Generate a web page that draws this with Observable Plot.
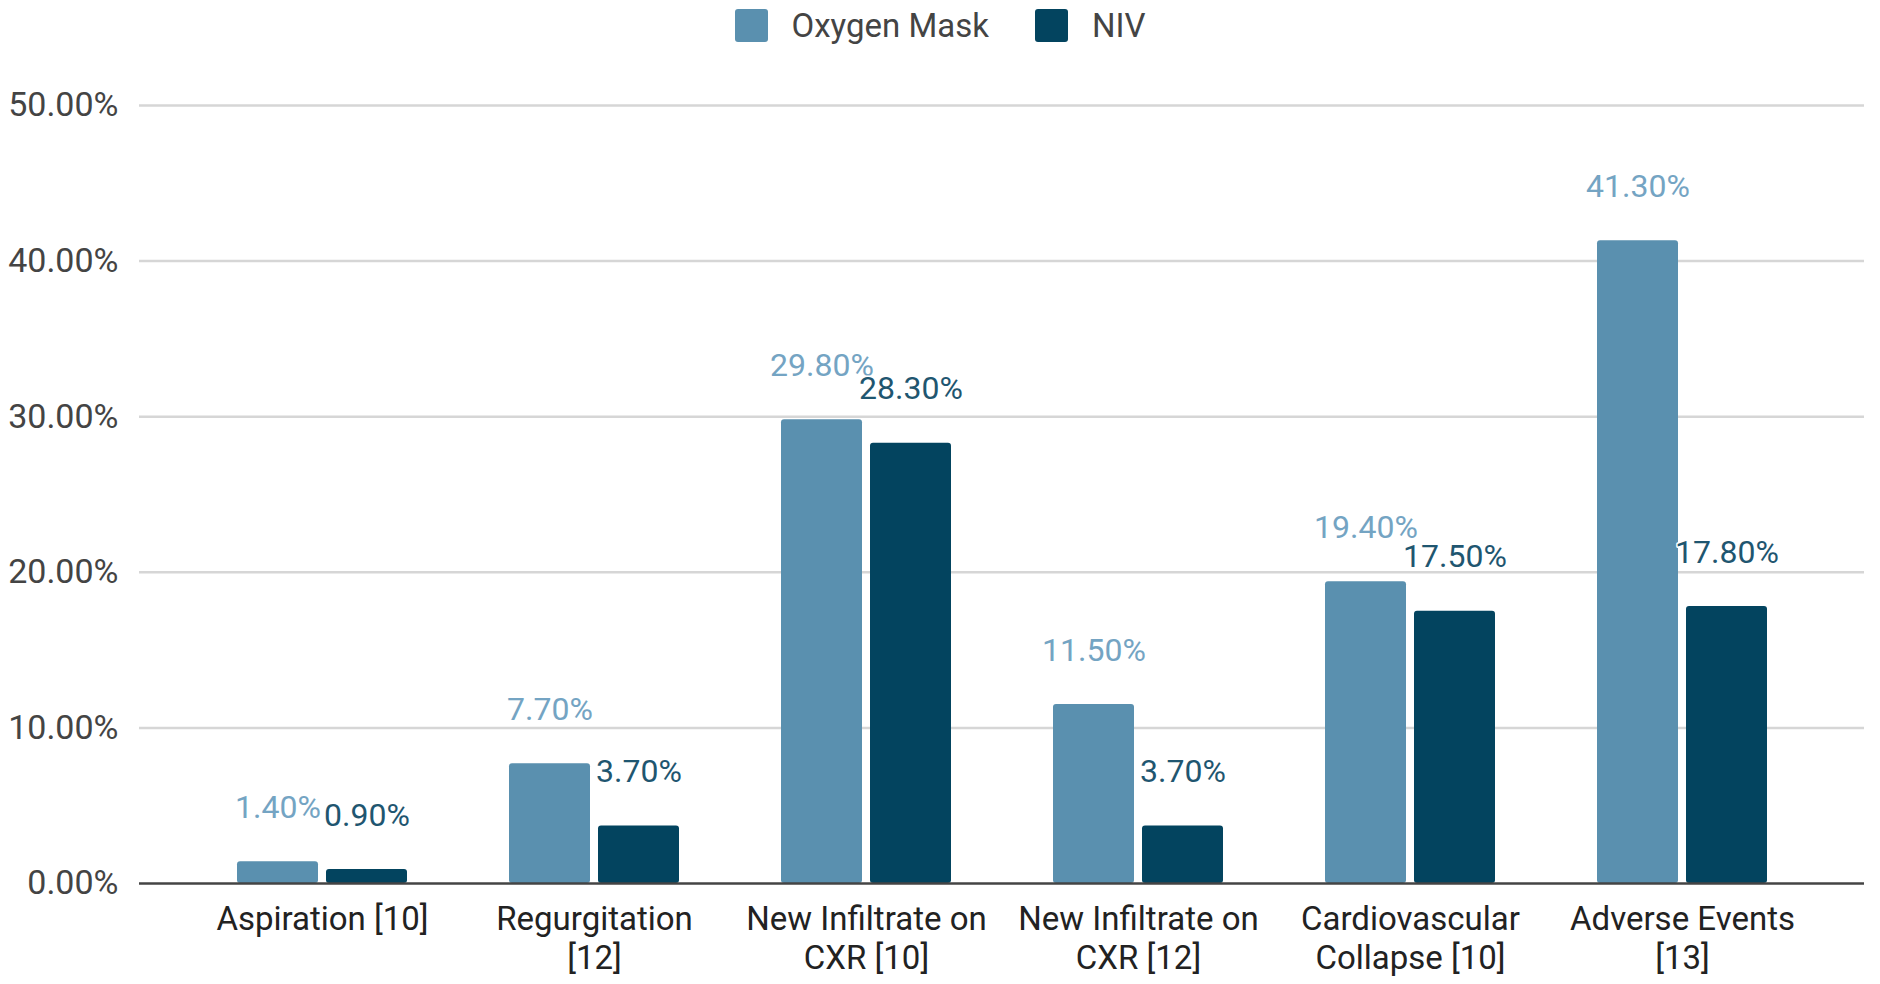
<!DOCTYPE html>
<html>
<head>
<meta charset="utf-8">
<script src="https://cdn.jsdelivr.net/npm/d3@7"></script>
<script src="https://cdn.jsdelivr.net/npm/@observablehq/plot@0.6"></script>
<style>
  html, body { margin: 0; padding: 0; background: #fff; }
  body { font-family: Roboto, "Noto Sans", sans-serif; width: 1880px; }
  #legend { height: 50px; display: flex; justify-content: center; align-items: center; }
  .item { display: flex; align-items: center; font-size: 33px; color: #444; margin: 0 23px; }
  .sw { width: 33px; height: 33px; border-radius: 3px; margin-right: 24px; }
  svg { display: block; }
</style>
</head>
<body>
<div id="legend"></div>
<div id="chart"></div>
<script>
const categories = ["Aspiration [10]", "Regurgitation [12]", "New Infiltrate on CXR [10]", "New Infiltrate on CXR [12]", "Cardiovascular Collapse [10]", "Adverse Events [13]"];
const tickLabels = ["Aspiration [10]", "Regurgitation\n[12]", "New Infiltrate on\nCXR [10]", "New Infiltrate on\nCXR [12]", "Cardiovascular\nCollapse [10]", "Adverse Events\n[13]"];
const seriesNames = ["Oxygen Mask", "NIV"];
const oxygenMask = [1.4, 7.7, 29.8, 11.5, 19.4, 41.3];
const niv = [0.9, 3.7, 28.3, 3.7, 17.5, 17.8];
const yTicks = [0, 10, 20, 30, 40, 50];

const barColors = ["#5a90af", "#03445f"];
const labelColors = ["#74a4c3", "#1f5670"];

const rows = categories.map((c, i) => ({category: c, oxygen: oxygenMask[i], niv: niv[i]}));

// legend
const legend = document.getElementById("legend");
seriesNames.forEach((s, i) => {
  const it = document.createElement("div");
  it.className = "item";
  it.innerHTML = `<div class="sw" style="background:${barColors[i]}"></div><span>${s}</span>`;
  legend.appendChild(it);
});

const fmt = v => v.toFixed(2) + "%";

const chart = Plot.plot({
  width: 1880,
  height: 934,
  marginTop: 55,
  marginBottom: 101,
  marginLeft: 139,
  marginRight: 16,
  style: {fontFamily: "Roboto, sans-serif", background: "#fff"},
  x: {domain: categories, paddingInner: 0.375, paddingOuter: 0.35, axis: null},
  y: {domain: [0, 50], axis: null},
  marks: [
    Plot.gridY(yTicks.filter(d => d > 0), {stroke: "#d6d6d6", strokeOpacity: 1, strokeWidth: 2.5}),
    Plot.barY(rows, {x: "category", y: "oxygen", fill: barColors[0], insetRight: 89, rx: 3}),
    Plot.barY(rows, {x: "category", y: "niv", fill: barColors[1], insetLeft: 89, rx: 3}),
    Plot.ruleY([0], {stroke: "#444", strokeWidth: 2.5}),
    Plot.text(rows, {x: "category", y: "oxygen", text: d => fmt(d.oxygen), dx: -44.5, dy: -54, fill: labelColors[0], fontSize: 32, lineAnchor: "middle", stroke: "white", strokeWidth: 3}),
    Plot.text(rows, {x: "category", y: "niv", text: d => fmt(d.niv), dx: 44.5, dy: -54, fill: labelColors[1], fontSize: 32, lineAnchor: "middle", stroke: "white", strokeWidth: 3}),
    Plot.axisY({ticks: yTicks, tickFormat: fmt, tickSize: 0, tickPadding: 21, fontSize: 34, color: "#444", label: null}),
    Plot.axisX({tickFormat: d => tickLabels[categories.indexOf(d)], tickSize: 0, tickPadding: 19, fontSize: 33, lineHeight: 1.18, color: "#222", label: null})
  ]
});
document.getElementById("chart").appendChild(chart);
</script>
</body>
</html>
